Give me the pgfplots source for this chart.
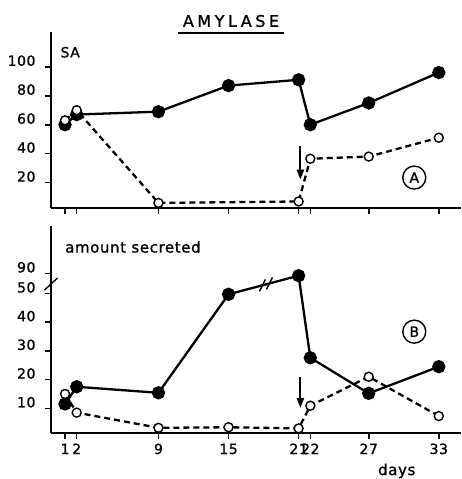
\documentclass[border=0pt]{standalone}
\usepackage{pgfplots}
\pgfplotsset{compat=1.18}
\usepackage{fontspec}
\setmainfont{DejaVu Sans}
\newfontfamily\titlefont[LetterSpace=22,FakeBold=1.2]{DejaVu Sans}
\newfontfamily\labfont[LetterSpace=4,FakeBold=1.2]{DejaVu Sans}
\newcommand\tl{\labfont\fontsize{14}{14}\selectfont}
\usetikzlibrary{arrows.meta}
\pgfplotsset{
  panel/.style={
    scale only axis, width=410pt,
    xmin=-0.2, xmax=34.9,
    axis x line=bottom, axis y line=left,
    axis line style={line width=1.9pt, -},
    xtick={1,2,9,15,21,22,27,33},
    tick style={line width=1.6pt, black},
    tick align=outside, major tick length=6pt,
    clip=false,
    /pgf/number format/assume math mode=true,
    yticklabel style={anchor=base east, yshift=1pt, xshift=-6pt},
    xticklabel style={anchor=base, yshift=-15pt},
  },
  filled/.style={black, line width=2.3pt, mark=*, mark size=5.5pt, mark options={solid, fill=black}},
  open/.style={black, line width=2.3pt, dash pattern=on 6pt off 4pt, mark=*, mark size=4.5pt, mark options={solid, fill=white, line width=1.4pt}},
}
\begin{document}
\begin{tikzpicture}[x=1pt,y=1pt]
\useasboundingbox (0,0) rectangle (462,479);
% title
\node[font=\titlefont\fontsize{16}{16}\selectfont] at (231,458) {AMYLASE};
\draw[line width=1.6pt] (178,446) -- (284,446);
% panel A
\begin{axis}[panel, at={(51pt,271pt)}, anchor=south west, height=176pt,
  ymin=2.5, ymax=124, ytick={20,40,60,80,100},
  yticklabels={\tl 20,\tl 40,\tl 60,\tl 80,\tl 100}, xticklabels={}]
\addplot[filled] coordinates {(1,60)(2,67)(9,69)(15,87)(21,91)(22,60)(27,75)(33,96)};
\addplot[open] coordinates {(1,63)(2,70)(9,6)(21,7)(22,36.5)(27,38)(33,51)};
\draw[-{Triangle[width=7pt,length=10pt]}, line width=2.2pt] (axis cs:21.15,45) -- (axis cs:21.15,22);
\node[draw, circle, line width=1.4pt, minimum size=23pt, inner sep=0pt, font=\labfont\fontsize{14}{14}\selectfont] at (axis cs:30.9,23.5) {A};
\node[anchor=west, font=\labfont\fontsize{14}{14}\selectfont, inner sep=0pt] at (axis cs:0.6,110) {SA};
\end{axis}
% panel B
\begin{axis}[panel, at={(51pt,46pt)}, anchor=south west, height=207pt,
  ymin=1.4, ymax=73.5, ytick={10,20,30,40,50,57},
  yticklabels={\tl 10,\tl 20,\tl 30,\tl 40,\tl 50,\tl 90},
  xticklabels={\tl 1,\tl 2,\tl 9,\tl 15,\tl 21,\tl 22,\tl 27,\tl 33}]
\addplot[filled] coordinates {(1,11.5)(2,17.5)(9,15.4)(15,49.7)(21,56.2)(22,27.6)(27,15.2)(33,24.5)};
\addplot[open] coordinates {(1,15)(2,8.5)(9,3.2)(15,3.4)(21,3)(22,10.9)(27,21)(33,7.3)};
\draw[-{Triangle[width=7pt,length=10pt]}, line width=2.2pt] (axis cs:21.15,21) -- (axis cs:21.15,10.1);
\node[draw, circle, line width=1.4pt, minimum size=23pt, inner sep=0pt, font=\labfont\fontsize{14}{14}\selectfont] at (axis cs:30.9,36.7) {B};
\node[anchor=west, font=\labfont\fontsize{15}{15}\selectfont, inner sep=0pt] at (axis cs:1.0,66.2) {amount secreted};
\node[font=\labfont\fontsize{15}{15}\selectfont] at (axis cs:29.4,-11.8) {days};
% axis break
\draw[line width=1.4pt] ([shift={(-6.5pt,-6pt)}]axis cs:-0.2,53.3) -- ([shift={(6.5pt,6pt)}]axis cs:-0.2,53.3);
% line break marks
\draw[line width=1.4pt] ([shift={(-3pt,-6pt)}]axis cs:17.9,52.8) -- ([shift={(3pt,6pt)}]axis cs:17.9,52.8);
\draw[line width=1.4pt] ([shift={(-3pt,-6pt)}]axis cs:18.5,53.5) -- ([shift={(3pt,6pt)}]axis cs:18.5,53.5);
\end{axis}
\end{tikzpicture}
\end{document}
